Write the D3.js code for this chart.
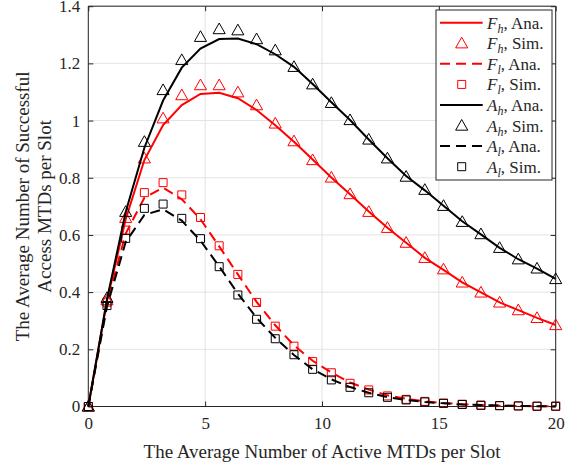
<!DOCTYPE html>
<html>
<head>
<meta charset="utf-8">
<script src="https://cdn.jsdelivr.net/npm/d3@7/dist/d3.min.js"></script>
<style>
  html, body { margin: 0; padding: 0; background: #fff; }
  svg { display: block; }
  text { font-family: "Liberation Serif", "Times New Roman", serif; fill: #262626; }
</style>
</head>
<body>
<svg id="chart" width="574" height="463"></svg>
<script>
// Average number of active MTDs per slot (x grid shared by every series)
const activeMTDs = d3.range(26).map(i => +(i * 0.8).toFixed(1));

// Analytical and simulated results
const fhAna = [0, 0.370, 0.655, 0.862, 0.984, 1.054, 1.093, 1.097, 1.078, 1.037, 0.984, 0.926, 0.864,
  0.801, 0.742, 0.682, 0.625, 0.573, 0.520, 0.478, 0.434, 0.399, 0.364, 0.337, 0.310, 0.285];
const fhSim = [0, 0.372, 0.660, 0.868, 1.008, 1.089, 1.124, 1.124, 1.099, 1.054, 0.990, 0.928, 0.862,
  0.801, 0.743, 0.681, 0.625, 0.573, 0.520, 0.480, 0.434, 0.399, 0.364, 0.337, 0.310, 0.285];
const flAna = [0, 0.360, 0.605, 0.730, 0.765, 0.725, 0.655, 0.560, 0.462, 0.366, 0.284, 0.214, 0.160,
  0.119, 0.084, 0.059, 0.039, 0.027, 0.018, 0.012, 0.008, 0.005, 0.003, 0.002, 0.001, 0.001];
const flSim = [0, 0.365, 0.617, 0.748, 0.783, 0.740, 0.661, 0.562, 0.462, 0.364, 0.281, 0.211, 0.157,
  0.118, 0.081, 0.058, 0.037, 0.025, 0.018, 0.012, 0.008, 0.005, 0.003, 0.002, 0.001, 0.001];
const ahAna = [0, 0.375, 0.680, 0.905, 1.070, 1.185, 1.252, 1.285, 1.287, 1.267, 1.232, 1.188, 1.128,
  1.064, 1.002, 0.934, 0.868, 0.806, 0.756, 0.702, 0.648, 0.602, 0.555, 0.515, 0.482, 0.446];
const ahSim = [0, 0.380, 0.681, 0.926, 1.107, 1.212, 1.293, 1.320, 1.316, 1.285, 1.246, 1.188, 1.127,
  1.062, 1.002, 0.934, 0.868, 0.804, 0.758, 0.702, 0.646, 0.603, 0.555, 0.515, 0.483, 0.446];
const alAna = [0, 0.350, 0.575, 0.670, 0.690, 0.650, 0.580, 0.490, 0.395, 0.310, 0.240, 0.180, 0.130,
  0.095, 0.068, 0.048, 0.033, 0.023, 0.016, 0.011, 0.007, 0.005, 0.003, 0.002, 0.001, 0.001];
const alSim = [0, 0.353, 0.588, 0.693, 0.708, 0.658, 0.587, 0.489, 0.390, 0.305, 0.237, 0.181, 0.130,
  0.093, 0.067, 0.048, 0.032, 0.023, 0.016, 0.011, 0.007, 0.004, 0.003, 0.002, 0.001, 0.001];

// Axis ticks
const xTicks = [0, 5, 10, 15, 20];
const yTicks = [0, 0.2, 0.4, 0.6, 0.8, 1, 1.2, 1.4];

const xLabel = "The Average Number of Active MTDs per Slot";
const yLabelLines = ["The Average Number of Successful", "Access MTDs per Slot"];

// Series definitions
const series = [
  { sym: "F", sub: "h", kind: "Ana.", values: fhAna, color: "#ff0000", dash: null },
  { sym: "F", sub: "h", kind: "Sim.", values: fhSim, color: "#ff0000", marker: "triangle" },
  { sym: "F", sub: "l", kind: "Ana.", values: flAna, color: "#ff0000", dash: "10,6" },
  { sym: "F", sub: "l", kind: "Sim.", values: flSim, color: "#ff0000", marker: "square" },
  { sym: "A", sub: "h", kind: "Ana.", values: ahAna, color: "#000000", dash: null },
  { sym: "A", sub: "h", kind: "Sim.", values: ahSim, color: "#000000", marker: "triangle" },
  { sym: "A", sub: "l", kind: "Ana.", values: alAna, color: "#000000", dash: "10,6" },
  { sym: "A", sub: "l", kind: "Sim.", values: alSim, color: "#000000", marker: "square" }
];

const svg = d3.select("#chart");
const pLeft = 88.3, pRight = 555.7, pTop = 6.2, pBottom = 406.5;

const x = d3.scaleLinear().domain([0, 20]).range([pLeft, pRight]);
const y = d3.scaleLinear().domain([0, 1.4]).range([pBottom, pTop]);

const axisColor = "#262626";
const gridColor = "#e3e3e3";

// Grid
const grid = svg.append("g");
grid.selectAll(".gx").data(xTicks).join("line")
  .attr("x1", d => x(d)).attr("x2", d => x(d))
  .attr("y1", pTop).attr("y2", pBottom)
  .attr("stroke", gridColor).attr("stroke-width", 1);
grid.selectAll(".gy").data(yTicks).join("line")
  .attr("x1", pLeft).attr("x2", pRight)
  .attr("y1", d => y(d)).attr("y2", d => y(d))
  .attr("stroke", gridColor).attr("stroke-width", 1);

// Axes (ticks pointing inward, box on)
const fmt = d => String(+d.toFixed(1));
const xAxis = d3.axisBottom(x).tickValues(xTicks).tickSize(-5).tickPadding(10).tickFormat(fmt);
const yAxis = d3.axisLeft(y).tickValues(yTicks).tickSize(-5).tickPadding(8).tickFormat(fmt);
const xAxisTop = d3.axisTop(x).tickValues(xTicks).tickSize(-5).tickFormat("");
const yAxisRight = d3.axisRight(y).tickValues(yTicks).tickSize(-5).tickFormat("");

function styleAxis(g) {
  g.selectAll("path").attr("stroke", axisColor).attr("stroke-width", 1);
  g.selectAll("line").attr("stroke", axisColor).attr("stroke-width", 1);
  g.selectAll("text").attr("font-family", "Liberation Serif, serif")
    .attr("font-size", 17).attr("fill", axisColor);
}

svg.append("g").attr("transform", `translate(0,${pBottom})`).call(xAxis).call(styleAxis)
  .call(g => g.select(".domain").attr("d", `M${pLeft},0H${pRight}`));
svg.append("g").attr("transform", `translate(${pLeft},0)`).call(yAxis).call(styleAxis)
  .call(g => g.select(".domain").attr("d", `M0,${pBottom}V${pTop}`));
svg.append("g").attr("transform", `translate(0,${pTop})`).call(xAxisTop).call(styleAxis)
  .call(g => g.select(".domain").attr("d", `M${pLeft},0H${pRight}`));
svg.append("g").attr("transform", `translate(${pRight},0)`).call(yAxisRight).call(styleAxis)
  .call(g => g.select(".domain").attr("d", `M0,${pBottom}V${pTop}`));

// Axis labels
svg.append("text")
  .attr("x", (pLeft + pRight) / 2).attr("y", 451)
  .attr("text-anchor", "middle").attr("dominant-baseline", "central")
  .attr("font-size", 19).attr("fill", axisColor)
  .text(xLabel);

const yl = svg.append("text")
  .attr("transform", `translate(22,${(pTop + pBottom) / 2}) rotate(-90)`)
  .attr("text-anchor", "middle").attr("font-size", 19).attr("fill", axisColor);
yLabelLines.forEach((t, i) => {
  yl.append("tspan").attr("x", 0).attr("y", i * 22.6).attr("dominant-baseline", "central").text(t);
});

// Marker shapes
const triPath = s => `M0,${-s * 0.55}L${s * 0.55},${s * 0.42}L${-s * 0.55},${s * 0.42}Z`;
const sqPath = s => `M${-s / 2},${-s / 2}h${s}v${s}h${-s}Z`;
function markerPath(kind) {
  return kind === "triangle" ? triPath(11) : sqPath(8);
}

const line = d3.line().x(d => x(d[0])).y(d => y(d[1]));
const plot = svg.append("g");

series.forEach(s => {
  const pts = activeMTDs.map((v, i) => [v, s.values[i]]);
  if (s.marker) {
    plot.append("g").selectAll("path").data(pts).join("path")
      .attr("transform", d => `translate(${x(d[0])},${y(d[1])})`)
      .attr("d", markerPath(s.marker))
      .attr("fill", "none").attr("stroke", s.color).attr("stroke-width", 1);
  } else {
    plot.append("path").datum(pts)
      .attr("d", line)
      .attr("fill", "none").attr("stroke", s.color).attr("stroke-width", 2)
      .attr("stroke-dasharray", s.dash);
  }
});

// Legend
const lg = svg.append("g");
const lgX = 436, lgY = 10, lgW = 116, lgH = 170;
lg.append("rect").attr("x", lgX).attr("y", lgY).attr("width", lgW).attr("height", lgH)
  .attr("fill", "#fff").attr("stroke", axisColor).attr("stroke-width", 1);

series.forEach((s, i) => {
  const cy = 22.7 + i * 20.57;
  if (s.marker) {
    lg.append("path").attr("transform", `translate(461.7,${cy})`)
      .attr("d", markerPath(s.marker))
      .attr("fill", "none").attr("stroke", s.color).attr("stroke-width", 1);
  } else {
    lg.append("line").attr("x1", 440).attr("x2", 482.7).attr("y1", cy).attr("y2", cy)
      .attr("stroke", s.color).attr("stroke-width", 2).attr("stroke-dasharray", s.dash);
  }
  const t = lg.append("text").attr("x", 487).attr("y", cy + 6)
    .attr("font-size", 17).attr("fill", "#000");
  t.append("tspan").attr("font-style", "italic").text(s.sym);
  t.append("tspan").attr("font-style", "italic").attr("font-size", 12)
    .attr("dy", 4).text(s.sub);
  t.append("tspan").attr("dy", -4).text(", " + s.kind);
});
</script>
</body>
</html>
